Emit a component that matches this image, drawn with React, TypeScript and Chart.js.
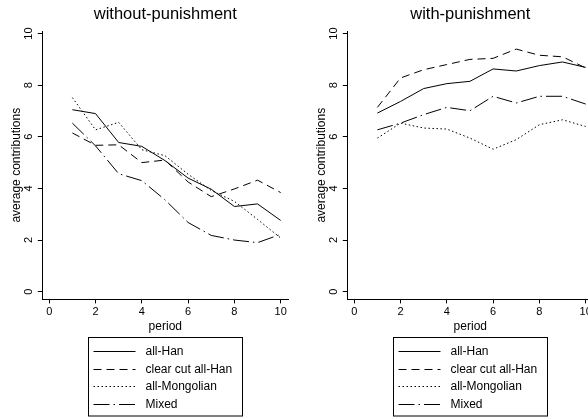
import React, { useEffect, useRef } from 'react';
import { Chart, registerables } from 'chart.js';

Chart.register(...registerables);

const FONT = '"Liberation Sans", Arial, Helvetica, sans-serif';

const periods = [1, 2, 3, 4, 5, 6, 7, 8, 9, 10];
const seriesNames = ['all-Han', 'clear cut all-Han', 'all-Mongolian', 'Mixed'];
const xTickValues = [0, 2, 4, 6, 8, 10];
const yTickValues = [0, 2, 4, 6, 8, 10];
const panelTitles = ['without-punishment', 'with-punishment'];

// without punishment
const noPunAllHan = [7.05, 6.9, 5.78, 5.63, 5.08, 4.4, 3.97, 3.3, 3.4, 2.76];
const noPunClearCut = [6.15, 5.67, 5.69, 5.0, 5.1, 4.25, 3.68, 3.98, 4.32, 3.84];
const noPunMongolian = [7.52, 6.27, 6.56, 5.5, 5.27, 4.55, 3.92, 3.5, 2.8, 2.08];
const noPunMixed = [6.53, 5.65, 4.57, 4.3, 3.56, 2.68, 2.18, 2.0, 1.9, 2.22];

// with punishment
const punAllHan = [6.92, 7.37, 7.87, 8.06, 8.15, 8.63, 8.55, 8.76, 8.9, 8.69];
const punClearCut = [7.14, 8.28, 8.6, 8.8, 9.0, 9.04, 9.4, 9.16, 9.1, 8.67];
const punMongolian = [5.95, 6.53, 6.34, 6.3, 5.95, 5.52, 5.89, 6.47, 6.66, 6.4];
const punMixed = [6.27, 6.53, 6.86, 7.14, 7.01, 7.57, 7.31, 7.57, 7.57, 7.27];

const dashes: number[][] = [[], [8, 5], [1.5, 2.5], [16, 4, 1.5, 4]];

const stataLegend = {
  id: 'stataLegend',
  afterDraw(chart: any) {
    const ctx = chart.ctx;
    const ca = chart.chartArea;
    const cx = (ca.left + ca.right) / 2;
    const w = 154;
    const left = Math.round(cx - w / 2) + 0.5;
    const top = 337.5;
    const h = 78.5;
    ctx.save();
    ctx.strokeStyle = '#000';
    ctx.lineWidth = 1;
    ctx.setLineDash([]);
    ctx.strokeRect(left, top, w, h);
    ctx.font = `12px ${FONT}`;
    ctx.fillStyle = '#000';
    ctx.textBaseline = 'middle';
    ctx.textAlign = 'left';
    chart.data.datasets.forEach((ds: any, i: number) => {
      const y = Math.round(350.7 + i * 17.8) + 0.5;
      ctx.setLineDash(ds.borderDash || []);
      ctx.beginPath();
      ctx.moveTo(left + 5, y);
      ctx.lineTo(left + 47, y);
      ctx.stroke();
      ctx.setLineDash([]);
      ctx.fillText(ds.label, left + 57, y);
    });
    ctx.restore();
  },
};

function makeConfig(title: string, series: number[][]): any {
  return {
    type: 'line',
    data: {
      datasets: series.map((vals, i) => ({
        label: seriesNames[i],
        data: periods.map((p, j) => ({ x: p, y: vals[j] })),
        borderColor: '#000',
        borderWidth: 1,
        borderDash: dashes[i],
        pointRadius: 0,
        tension: 0,
        fill: false,
      })),
    },
    options: {
      animation: false,
      responsive: false,
      maintainAspectRatio: false,
      events: [],
      layout: { padding: { left: 0, right: 5.7, top: 0, bottom: 83.6 } },
      plugins: {
        legend: { display: false },
        tooltip: { enabled: false },
        title: {
          display: true,
          text: title,
          fullSize: false,
          color: '#000',
          font: { family: FONT, size: 16.5, weight: 'normal' },
          padding: { top: 5, bottom: 6.2 },
        },
      },
      scales: {
        x: {
          type: 'linear',
          min: -0.3,
          max: 10.33,
          afterBuildTicks: (s: any) => {
            s.ticks = xTickValues.map((v) => ({ value: v }));
          },
          afterFit: (s: any) => {
            s.height = 36;
          },
          grid: { drawOnChartArea: false, drawTicks: true, tickLength: 4, color: '#000', lineWidth: 1 },
          border: { display: true, color: '#000', width: 1 },
          ticks: { font: { family: FONT, size: 11 }, color: '#000', padding: 2, maxRotation: 0, autoSkip: false },
          title: {
            display: true,
            text: 'period',
            color: '#000',
            font: { family: FONT, size: 12 },
            padding: { top: 0, bottom: 1.5 },
          },
        },
        y: {
          type: 'linear',
          min: -0.3,
          max: 10.1,
          afterBuildTicks: (s: any) => {
            s.ticks = yTickValues.map((v) => ({ value: v }));
          },
          afterFit: (s: any) => {
            s.width = 42.3;
          },
          grid: { drawOnChartArea: false, drawTicks: true, tickLength: 4.5, color: '#000', lineWidth: 1 },
          border: { display: true, color: '#000', width: 1 },
          ticks: {
            font: { family: FONT, size: 11 },
            color: '#000',
            padding: 3,
            minRotation: 90,
            maxRotation: 90,
            crossAlign: 'center',
            autoSkip: false,
          },
          title: {
            display: true,
            text: 'average contributions',
            color: '#000',
            font: { family: FONT, size: 12 },
            padding: { top: 9.8, bottom: 0 },
          },
        },
      },
    },
    plugins: [stataLegend],
  };
}

function Panel({ title, series, left }: { title: string; series: number[][]; left: number }) {
  const ref = useRef<HTMLCanvasElement | null>(null);
  useEffect(() => {
    if (!ref.current) return;
    const chart = new Chart(ref.current, makeConfig(title, series));
    return () => chart.destroy();
  }, [title, series]);
  return (
    <canvas
      ref={ref}
      width={294}
      height={419}
      style={{ position: 'absolute', left, top: 0, width: 294, height: 419 }}
    />
  );
}

const leftSeries = [noPunAllHan, noPunClearCut, noPunMongolian, noPunMixed];
const rightSeries = [punAllHan, punClearCut, punMongolian, punMixed];

export default function App() {
  return (
    <div
      style={{
        position: 'absolute',
        left: 0,
        top: 0,
        width: 588,
        height: 419,
        overflow: 'hidden',
        background: '#fff',
      }}
    >
      <Panel title={panelTitles[0]} series={leftSeries} left={0} />
      <Panel title={panelTitles[1]} series={rightSeries} left={305} />
    </div>
  );
}
